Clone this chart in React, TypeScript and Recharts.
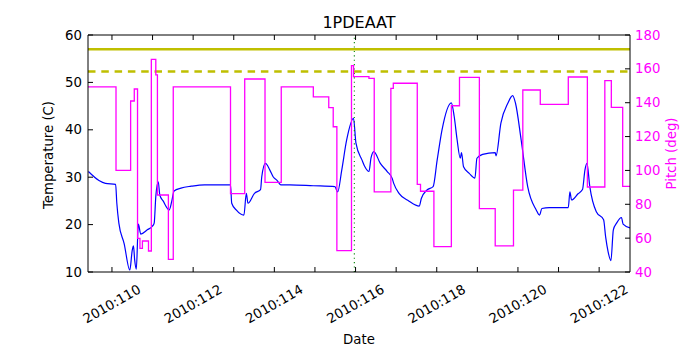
import { LineChart, Line, XAxis, YAxis, ReferenceLine } from "recharts";

// temperature trace (left axis), day of year 2010
const tempDays = [
  109.42, 109.68, 109.84, 110.09, 110.12, 110.17, 110.3, 110.44, 110.5, 110.53,
  110.56, 110.6, 110.65, 110.71, 110.87, 111.0, 111.04, 111.08, 111.14, 111.18,
  111.26, 111.41, 111.47, 111.53, 111.7, 111.95, 112.28, 112.92, 112.95, 113.06,
  113.25, 113.31, 113.35, 113.51, 113.66, 113.69, 113.78, 113.89, 113.97, 114.06,
  114.16, 114.38, 114.96, 115.49, 115.56, 115.66, 115.78, 115.95, 116.01, 116.16,
  116.23, 116.33, 116.38, 116.45, 116.61, 116.78, 116.9, 116.94, 117.07, 117.31,
  117.57, 117.62, 117.76, 117.91, 118.01, 118.13, 118.36, 118.43, 118.5, 118.58,
  118.61, 118.66, 118.8, 118.94, 118.99, 119.13, 119.44, 119.46, 119.58, 119.75,
  119.87, 119.94, 120.08, 120.24, 120.45, 120.53, 120.59, 120.77, 121.24, 121.28,
  121.32, 121.48, 121.59, 121.65, 121.7, 121.77, 121.93, 122.11, 122.16, 122.22,
  122.29, 122.35, 122.43, 122.55, 122.59, 122.76,
];
const tempValues = [
  31.2, 29.3, 28.7, 28.5, 24.5, 20.3, 16.0, 10.4, 14.6, 15.5,
  12.5, 10.6, 20.1, 18.0, 18.9, 19.7, 20.3, 25.9, 29.0, 26.2,
  25.0, 23.1, 24.8, 27.1, 27.7, 28.1, 28.4, 28.4, 24.5, 23.1,
  22.0, 26.6, 24.5, 26.6, 27.4, 30.1, 32.9, 31.5, 30.1, 29.4,
  28.4, 28.4, 28.2, 28.0, 26.9, 31.5, 37.8, 42.4, 37.2, 33.6,
  32.2, 31.2, 34.0, 35.4, 32.9, 31.2, 29.8, 28.7, 26.6, 25.0,
  23.9, 25.5, 27.3, 28.0, 33.6, 40.0, 45.7, 42.8, 38.0, 34.0,
  35.2, 32.2, 30.8, 29.8, 34.0, 34.8, 35.2, 34.5, 41.4, 45.6,
  47.2, 45.6, 37.8, 28.0, 23.1, 22.0, 23.4, 23.6, 23.6, 26.9,
  25.2, 26.5, 27.4, 31.5, 32.9, 28.0, 22.7, 21.0, 17.4, 14.3,
  12.4, 18.9, 20.3, 21.5, 20.1, 19.3,
];

// pitch trace (right axis), held until the next change
const pitchDays = [
  109.4, 110.1, 110.46, 110.55, 110.63, 110.69, 110.75, 110.9, 110.97, 111.08,
  111.12, 111.39, 111.51, 112.92, 113.27, 113.77, 114.17, 114.96, 115.34, 115.45,
  115.54, 115.9, 115.95, 116.33, 116.46, 116.87, 116.93, 117.52, 117.6, 117.93,
  118.36, 118.56, 119.05, 119.44, 119.89, 120.12, 120.55, 121.24, 121.71, 122.14,
  122.3, 122.58, 122.76,
];
const pitchValues = [
  149.3, 100.0, 141.0, 148.1, 59.9, 54.0, 58.3, 52.4, 165.6, 156.4,
  85.5, 47.5, 149.3, 86.3, 154.0, 93.0, 149.3, 143.4, 137.1, 125.8,
  52.6, 161.9, 155.4, 154.4, 87.3, 148.5, 151.5, 91.8, 87.7, 55.0,
  138.2, 155.0, 77.4, 55.4, 88.4, 147.5, 139.0, 155.2, 90.2, 153.0,
  137.3, 90.6, 90.6,
];

const dayTicks = [110, 111, 112, 113, 114, 115, 116, 117, 118, 119, 120, 121, 122];
const tempTicks = [10, 20, 30, 40, 50, 60];
const pitchTicks = [40, 60, 80, 100, 120, 140, 160, 180];
const tempLimitHigh = 57;
const tempLimitLow = 52.3;
const markerDay = 115.97;

const tempData = tempDays.map((day, i) => ({ day, temp: tempValues[i] }));
const pitchData = pitchDays.map((day, i) => ({ day, pitch: pitchValues[i] }));

const font = "DejaVu Sans";
const magenta = "#ff00ff";

function DateTick({ x, y, payload }: any) {
  const d = payload.value;
  const ty = y + 32;
  return (
    <g>
      <line x1={x} y1={y} x2={x} y2={y - 5} stroke="#000" />
      {d % 2 === 0 && (
        <text
          x={x}
          y={ty}
          transform={`rotate(-30 ${x} ${ty})`}
          textAnchor="middle"
          dominantBaseline="central"
          fontFamily={font}
          fontSize={13.3}
          fill="#000"
        >
          {"2010:" + d}
        </text>
      )}
    </g>
  );
}

function TopTick({ x, y }: any) {
  return <line x1={x} y1={y} x2={x} y2={y + 5} stroke="#000" />;
}

function TempTick({ x, y, payload }: any) {
  return (
    <g>
      <line x1={x} y1={y} x2={x + 5} y2={y} stroke="#000" />
      <text x={x - 6} y={y} textAnchor="end" dominantBaseline="central" fontFamily={font} fontSize={13.3} fill="#000">
        {payload.value}
      </text>
    </g>
  );
}

function PitchTick({ x, y, payload }: any) {
  return (
    <g>
      <line x1={x} y1={y} x2={x - 5} y2={y} stroke="#000" />
      <text x={x + 5} y={y} textAnchor="start" dominantBaseline="central" fontFamily={font} fontSize={13.3} fill={magenta}>
        {payload.value}
      </text>
    </g>
  );
}

export default function App() {
  return (
    <div style={{ position: "absolute", left: 0, top: 0, width: 700, height: 350, background: "#fff" }}>
      <LineChart width={700} height={350} data={tempData} margin={{ top: 5, right: 10, bottom: 18, left: 28 }}>
        <XAxis
          dataKey="day"
          type="number"
          domain={[109.41, 122.76]}
          allowDataOverflow
          ticks={dayTicks}
          interval={0}
          height={60}
          tickSize={0}
          tickMargin={0}
          tickLine={false}
          axisLine={{ stroke: "#000" }}
          tick={<DateTick />}
        />
        <XAxis
          xAxisId="top"
          orientation="top"
          dataKey="day"
          type="number"
          domain={[109.41, 122.76]}
          allowDataOverflow
          ticks={dayTicks}
          interval={0}
          height={30}
          tickSize={0}
          tickMargin={0}
          tickLine={false}
          axisLine={{ stroke: "#000" }}
          tick={<TopTick />}
        />
        <YAxis
          yAxisId="temp"
          domain={[10, 60]}
          allowDataOverflow
          ticks={tempTicks}
          interval={0}
          width={60}
          tickSize={0}
          tickMargin={0}
          tickLine={false}
          axisLine={{ stroke: "#000" }}
          tick={<TempTick />}
        />
        <YAxis
          yAxisId="pitch"
          orientation="right"
          domain={[40, 180]}
          allowDataOverflow
          ticks={pitchTicks}
          interval={0}
          width={60}
          tickSize={0}
          tickMargin={0}
          tickLine={false}
          axisLine={{ stroke: "#000" }}
          tick={<PitchTick />}
        />
        <Line
          yAxisId="temp"
          data={tempData}
          dataKey="temp"
          type="monotone"
          stroke="#0000ff"
          strokeWidth={1.2}
          dot={false}
          isAnimationActive={false}
        />
        <ReferenceLine yAxisId="temp" y={tempLimitHigh} stroke="#bfbf00" strokeWidth={2.6} />
        <ReferenceLine yAxisId="temp" y={tempLimitLow} stroke="#bfbf00" strokeWidth={2.6} strokeDasharray="7.5 5.8" />
        <ReferenceLine yAxisId="temp" x={markerDay} stroke="#008000" strokeWidth={1.1} strokeDasharray="1.1 3.3" />
        <Line
          yAxisId="pitch"
          data={pitchData}
          dataKey="pitch"
          type="stepAfter"
          stroke={magenta}
          strokeWidth={1.3}
          dot={false}
          isAnimationActive={false}
        />
      </LineChart>
      <svg width={700} height={350} style={{ position: "absolute", left: 0, top: 0, pointerEvents: "none" }}>
        <text x={359} y={28} textAnchor="middle" fontFamily={font} fontSize={16} fill="#000">
          1PDEAAT
        </text>
        <text x={359} y={343.5} textAnchor="middle" fontFamily={font} fontSize={13.3} fill="#000">
          Date
        </text>
        <text x={53} y={155} transform="rotate(-90 53 155)" textAnchor="middle" fontFamily={font} fontSize={13.3} fill="#000">
          Temperature (C)
        </text>
        <text x={676} y={153.5} transform="rotate(-90 676 153.5)" textAnchor="middle" fontFamily={font} fontSize={13.3} fill={magenta}>
          Pitch (deg)
        </text>
      </svg>
    </div>
  );
}
